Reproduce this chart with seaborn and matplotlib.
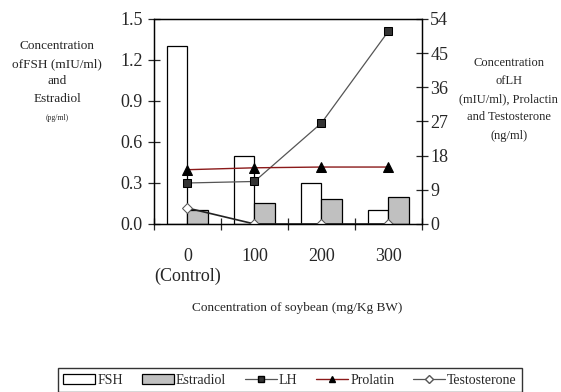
import pandas as pd
import matplotlib.pyplot as plt
import seaborn as sns
from matplotlib.lines import Line2D
from matplotlib.patches import Patch

doses = ['0\n(Control)', '100', '200', '300']
fsh = [1.3, 0.5, 0.3, 0.1]
estradiol = [0.1, 0.15, 0.18, 0.2]
lh = [10.8, 11.2, 26.6, 50.8]
prolatin = [14.3, 14.8, 15.0, 15.0]
testosterone = [4.2, 0.0, 0.0, 0.0]

sns.set_style('ticks')
plt.rcParams['font.family'] = ['Liberation Serif', 'DejaVu Serif']

bars = pd.DataFrame({
    'dose': doses * 2,
    'value': fsh + estradiol,
    'hormone': ['FSH'] * 4 + ['Estradiol'] * 4,
})

fig = plt.figure(figsize=(5.61, 3.92), dpi=100)
ax = fig.add_axes([0.2745, 0.4286, 0.4777, 0.523])

sns.barplot(data=bars, x='dose', y='value', hue='hormone',
            palette=['white', '#c0c0c0'], edgecolor='black', linewidth=0.9,
            width=0.6, legend=False, ax=ax)

ax2 = ax.twinx()
pos = list(range(len(doses)))
sns.lineplot(x=pos, y=lh, color='#555555', lw=0.9, marker='s', markersize=6,
             markerfacecolor='#333333', markeredgecolor='black', ax=ax2)
sns.lineplot(x=pos, y=prolatin, color='#8b1a1a', lw=1.0, marker='^', markersize=6.5,
             markerfacecolor='black', markeredgecolor='black', ax=ax2)
sns.lineplot(x=pos, y=testosterone, color='#222222', lw=1.2, marker='D', markersize=5,
             markerfacecolor='white', markeredgecolor='#555555', ax=ax2)

ax.set_xlim(-0.5, 3.5)
ax.set_ylim(0, 1.5)
ax2.set_ylim(0, 54)
ax.set_yticks([0, 0.3, 0.6, 0.9, 1.2, 1.5])
ax.set_yticklabels(['0.0', '0.3', '0.6', '0.9', '1.2', '1.5'])
ax2.set_yticks([0, 9, 18, 27, 36, 45, 54])
ax.set_xticks([-0.5, 0.5, 1.5, 2.5, 3.5], minor=True)
ax.tick_params(axis='x', which='major', length=0, labelsize=13, pad=17)
ax.tick_params(axis='x', which='minor', length=8, direction='inout', width=0.9)
ax.tick_params(axis='y', length=8, direction='inout', width=0.9, labelsize=13, pad=4)
ax2.tick_params(axis='y', length=8, direction='inout', width=0.9, labelsize=13, pad=2)
for t in ax.get_xticklabels():
    t.set_linespacing(1.2)
for a in (ax, ax2):
    for s in a.spines.values():
        s.set_linewidth(0.9)
        s.set_color('black')
    a.set_xlabel('')
    a.set_ylabel('')

fig.text(0.102, 0.815, 'Concentration\nofFSH (mIU/ml)\nand\nEstradiol', ha='center', va='center',
         fontsize=9.5, linespacing=1.6)
fig.text(0.102, 0.70, '(pg/ml)', ha='center', va='center', fontsize=5.5)
fig.text(0.907, 0.747, 'Concentration\nofLH\n(mIU/ml), Prolactin\nand Testosterone\n(ng/ml)',
         ha='center', va='center', fontsize=9, linespacing=1.7)
fig.text(0.53, 0.215, 'Concentration of soybean (mg/Kg BW)', ha='center', va='center', fontsize=9.5)

handles = [
    Patch(facecolor='white', edgecolor='black', lw=0.9),
    Patch(facecolor='#c0c0c0', edgecolor='black', lw=0.9),
    Line2D([], [], color='#555555', lw=0.9, marker='s', markersize=5,
           markerfacecolor='#333333', markeredgecolor='black'),
    Line2D([], [], color='#8b1a1a', lw=1.0, marker='^', markersize=5,
           markerfacecolor='black', markeredgecolor='black'),
    Line2D([], [], color='#555555', lw=0.9, marker='D', markersize=4,
           markerfacecolor='white', markeredgecolor='#555555'),
]
leg = fig.legend(handles, ['FSH', 'Estradiol', 'LH', 'Prolatin', 'Testosterone'],
                 loc='center', bbox_to_anchor=(0.517, 0.03), ncol=5, fontsize=10,
                 frameon=True, fancybox=False, handlelength=2.3, handletextpad=0.15,
                 columnspacing=1.35, borderpad=0.4, borderaxespad=0)
leg.get_frame().set_edgecolor('black')
leg.get_frame().set_linewidth(1.0)

fig.savefig('out.png', dpi=100)
